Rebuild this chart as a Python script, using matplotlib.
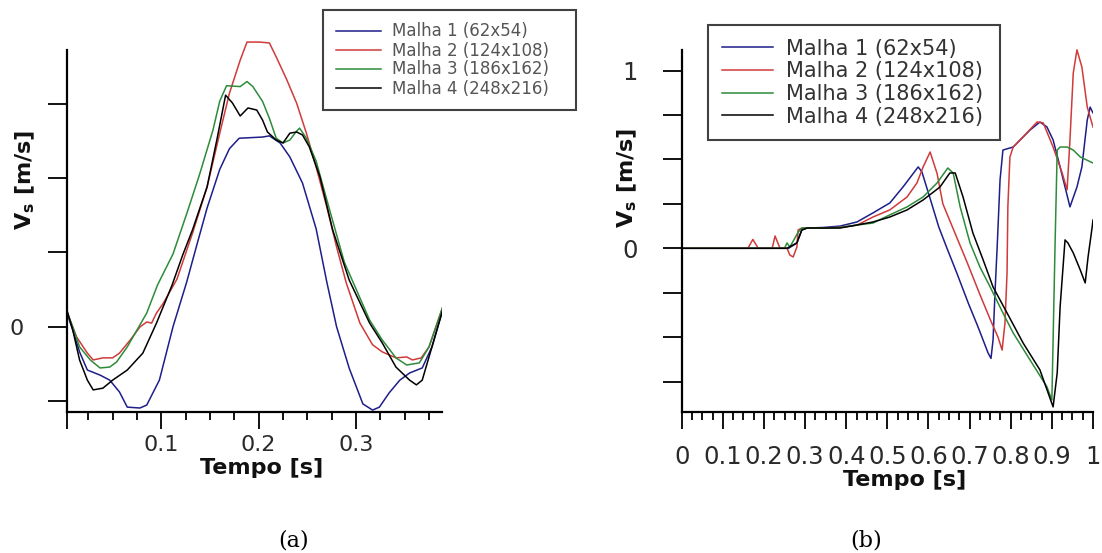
import matplotlib
matplotlib.use("Agg")
import matplotlib.pyplot as plt
from matplotlib.ticker import FixedLocator, MultipleLocator

plt.rcParams["font.family"] = ["DejaVu Sans"]

labels = ["Malha 1 (62x54)", "Malha 2 (124x108)", "Malha 3 (186x162)", "Malha 4 (248x216)"]
colors = ["#1e1e8a", "#d03a3a", "#2e8b3a", "#000000"]

# ---- panel (a): Vs [m/s] vs Tempo [s]
a_t_m1 = [0.003, 0.009, 0.016, 0.024, 0.037, 0.047, 0.057, 0.065, 0.078, 0.085, 0.098, 0.112, 0.126,
          0.136, 0.147, 0.160, 0.170, 0.180, 0.204, 0.211, 0.222, 0.232, 0.245, 0.259, 0.270, 0.280,
          0.293, 0.307, 0.317, 0.324, 0.334, 0.345, 0.355, 0.368, 0.378, 0.389]
a_v_m1 = [0.046, -0.011, -0.085, -0.146, -0.163, -0.180, -0.220, -0.271, -0.274, -0.264, -0.180, 0.0,
          0.15, 0.27, 0.40, 0.53, 0.60, 0.635, 0.639, 0.643, 0.619, 0.572, 0.484, 0.33, 0.15, 0.0,
          -0.14, -0.26, -0.281, -0.271, -0.223, -0.180, -0.156, -0.139, -0.068, 0.056]

a_t_m2 = [0.003, 0.013, 0.024, 0.030, 0.040, 0.050, 0.057, 0.068, 0.078, 0.085, 0.090, 0.095, 0.102,
          0.116, 0.132, 0.147, 0.160, 0.170, 0.181, 0.188, 0.201, 0.211, 0.218, 0.229, 0.239, 0.249,
          0.259, 0.270, 0.280, 0.290, 0.304, 0.317, 0.327, 0.341, 0.352, 0.358, 0.367, 0.375, 0.389]
a_v_m2 = [0.050, -0.035, -0.089, -0.112, -0.105, -0.105, -0.089, -0.045, -0.001, 0.016, 0.012, 0.046,
          0.079, 0.160, 0.315, 0.471, 0.652, 0.787, 0.898, 0.959, 0.959, 0.956, 0.909, 0.831, 0.753,
          0.652, 0.538, 0.403, 0.269, 0.147, 0.012, -0.061, -0.085, -0.105, -0.102, -0.112, -0.105,
          -0.068, 0.066]

a_t_m3 = [0.003, 0.009, 0.016, 0.027, 0.037, 0.047, 0.054, 0.065, 0.075, 0.085, 0.096, 0.112, 0.126,
          0.139, 0.153, 0.160, 0.167, 0.181, 0.188, 0.194, 0.204, 0.211, 0.218, 0.225, 0.232, 0.239,
          0.242, 0.249, 0.259, 0.273, 0.288, 0.296, 0.314, 0.327, 0.341, 0.352, 0.365, 0.375, 0.389]
a_v_m3 = [0.050, -0.001, -0.068, -0.112, -0.139, -0.136, -0.119, -0.068, -0.011, 0.046, 0.140, 0.245,
          0.380, 0.510, 0.662, 0.760, 0.812, 0.809, 0.826, 0.809, 0.759, 0.702, 0.635, 0.619, 0.629,
          0.659, 0.669, 0.635, 0.558, 0.392, 0.217, 0.157, 0.022, -0.045, -0.105, -0.129, -0.122,
          -0.068, 0.066]

a_t_m4 = [0.003, 0.009, 0.016, 0.024, 0.030, 0.040, 0.050, 0.065, 0.081, 0.095, 0.111, 0.122, 0.132,
          0.147, 0.157, 0.166, 0.173, 0.181, 0.189, 0.198, 0.204, 0.209, 0.218, 0.225, 0.232, 0.239,
          0.245, 0.252, 0.263, 0.276, 0.293, 0.314, 0.327, 0.341, 0.355, 0.362, 0.368, 0.378, 0.389]
a_v_m4 = [0.056, -0.011, -0.112, -0.180, -0.213, -0.207, -0.180, -0.146, -0.089, 0.012, 0.140, 0.242,
          0.326, 0.471, 0.629, 0.780, 0.754, 0.710, 0.737, 0.730, 0.696, 0.656, 0.629, 0.619, 0.652,
          0.656, 0.646, 0.606, 0.504, 0.326, 0.157, 0.012, -0.055, -0.136, -0.180, -0.196, -0.180,
          -0.068, 0.056]

# ---- panel (b)
b_t_m1 = [0.0, 0.26, 0.280, 0.292, 0.305, 0.344, 0.385, 0.426, 0.465, 0.506, 0.538, 0.575, 0.584,
          0.604, 0.625, 0.645, 0.669, 0.697, 0.720, 0.745, 0.752, 0.757, 0.762, 0.767, 0.774, 0.781,
          0.806, 0.823, 0.847, 0.871, 0.888, 0.903, 0.920, 0.932, 0.944, 0.961, 0.973, 0.986, 0.993, 1.0]
b_v_m1 = [0.0, 0.0, 0.03, 0.103, 0.114, 0.117, 0.125, 0.148, 0.199, 0.255, 0.345, 0.458, 0.43,
          0.28, 0.12, 0.0, -0.14, -0.31, -0.44, -0.59, -0.62, -0.516, -0.235, 0.007, 0.385, 0.553,
          0.57, 0.61, 0.666, 0.711, 0.683, 0.61, 0.458, 0.345, 0.233, 0.345, 0.458, 0.722, 0.795, 0.762]

b_t_m2 = [0.0, 0.161, 0.173, 0.186, 0.220, 0.227, 0.239, 0.256, 0.263, 0.271, 0.280, 0.283, 0.292,
          0.305, 0.344, 0.385, 0.426, 0.465, 0.506, 0.548, 0.572, 0.587, 0.604, 0.621, 0.635, 0.660,
          0.694, 0.725, 0.750, 0.769, 0.779, 0.786, 0.791, 0.793, 0.798, 0.806, 0.830, 0.864, 0.879,
          0.903, 0.925, 0.937, 0.944, 0.952, 0.961, 0.973, 0.986, 1.0]
b_v_m2 = [0.0, 0.0, 0.05, 0.0, 0.0, 0.069, 0.0, 0.0, -0.038, -0.049, 0.007, 0.103, 0.114,
          0.114, 0.114, 0.118, 0.13, 0.176, 0.216, 0.289, 0.368, 0.458, 0.542, 0.42, 0.25, 0.11,
          -0.08, -0.26, -0.40, -0.50, -0.573, -0.42, -0.139, 0.233, 0.514, 0.57, 0.627, 0.711, 0.706,
          0.57, 0.424, 0.329, 0.61, 0.987, 1.117, 1.02, 0.795, 0.683]

b_t_m3 = [0.0, 0.25, 0.256, 0.263, 0.283, 0.292, 0.305, 0.344, 0.385, 0.426, 0.465, 0.506, 0.548,
          0.587, 0.621, 0.647, 0.660, 0.677, 0.701, 0.725, 0.750, 0.781, 0.806, 0.847, 0.888, 0.900,
          0.903, 0.908, 0.913, 0.920, 0.937, 0.952, 0.969, 1.0]
b_v_m3 = [0.0, 0.0, 0.03, 0.007, 0.09, 0.114, 0.114, 0.114, 0.117, 0.131, 0.142, 0.188, 0.233,
          0.289, 0.368, 0.452, 0.424, 0.233, 0.03, -0.105, -0.218, -0.364, -0.477, -0.629, -0.78,
          -0.854, -0.516, 0.047, 0.553, 0.57, 0.57, 0.553, 0.514, 0.48]

b_t_m4 = [0.0, 0.256, 0.280, 0.292, 0.305, 0.344, 0.385, 0.426, 0.465, 0.506, 0.548, 0.587, 0.628,
          0.652, 0.665, 0.684, 0.708, 0.733, 0.757, 0.791, 0.830, 0.871, 0.903, 0.913, 0.920, 0.932,
          0.939, 0.952, 0.969, 0.981, 0.988, 0.998, 1.0]
b_v_m4 = [0.0, 0.0, 0.03, 0.103, 0.114, 0.114, 0.114, 0.131, 0.148, 0.176, 0.216, 0.272, 0.345,
          0.424, 0.424, 0.289, 0.086, -0.066, -0.218, -0.364, -0.533, -0.685, -0.893, -0.701, -0.331,
          0.047, 0.03, -0.026, -0.122, -0.195, -0.049, 0.12, 0.159]

b_xticks = [0.0, 0.1, 0.2, 0.3, 0.4, 0.5, 0.6, 0.7, 0.8, 0.9, 1.0]
b_xticklabels = ["0", "0.1", "0.2", "0.3", "0.4", "0.5", "0.6", "0.7", "0.8", "0.9", "1"]

W, H = 1102, 553
fig = plt.figure(figsize=(W / 100, H / 100), dpi=100)


def px_axes(x0, x1, ytop, ybot):
    return fig.add_axes([x0 / W, 1 - ybot / H, (x1 - x0) / W, (ybot - ytop) / H])


def style(ax, xpad, size):
    for s in ["top", "right"]:
        ax.spines[s].set_visible(False)
    for s in ["left", "bottom"]:
        ax.spines[s].set_linewidth(1.6)
    ax.tick_params(which="both", direction="out", width=1.4, colors="#111111",
                   labelcolor="#2a2a2a", labelsize=size)
    ax.tick_params(axis="x", which="major", length=12, pad=xpad)
    ax.tick_params(axis="x", which="minor", length=5.5)
    ax.tick_params(axis="y", which="major", length=13.5, pad=18)


# ---------------- (a)
ax1 = px_axes(67.3, 441.7, 38, 411.7)
a_series = [(a_t_m1, a_v_m1), (a_t_m2, a_v_m2), (a_t_m3, a_v_m3), (a_t_m4, a_v_m4)]
for (t, v), c, lab in zip(a_series, colors, labels):
    ax1.plot(t, v, color=c, lw=1.1, label=lab)
ax1.set_xlim(0.0034, 0.388)
ax1.set_ylim(-0.2864, 0.9727)
ax1.spines["left"].set_bounds(-0.2864, 0.932)
style(ax1, 5, 16)
ax1.xaxis.set_major_locator(FixedLocator([0.0034, 0.1, 0.2, 0.3]))
ax1.set_xticklabels(["", "0.1", "0.2", "0.3"])
ax1.xaxis.set_minor_locator(FixedLocator([0.025, 0.05, 0.075, 0.125, 0.15, 0.175, 0.225, 0.25,
                                          0.275, 0.325, 0.35, 0.375]))
ax1.yaxis.set_major_locator(MultipleLocator(0.25))
ax1.yaxis.set_major_formatter(plt.FuncFormatter(lambda v, p: "0" if abs(v) < 1e-9 else ""))
ax1.text(-0.113, 0.62, "V$_\\mathbf{s}$ [m/s]", transform=ax1.transAxes, rotation=90,
         ha="center", va="center", fontsize=16, fontweight="bold", color="#111111")
ax1.text(0.52, -0.151, "Tempo [s]", transform=ax1.transAxes, ha="center", va="center",
         fontsize=16, fontweight="bold", color="#111111")
leg1 = ax1.legend(loc="upper left", bbox_to_anchor=(323 / W, 0.5, 253 / W, 1 - 10 / H - 0.5),
                  bbox_transform=fig.transFigure, mode="expand", borderaxespad=0,
                  fontsize=12, handlelength=2.75, handletextpad=0.65, labelspacing=0.06,
                  borderpad=0.75, frameon=True, fancybox=False)
leg1.get_frame().set_edgecolor("#111111")
leg1.get_frame().set_linewidth(1.5)
for txt in leg1.get_texts():
    txt.set_color("#555555")

# ---------------- (b)
ax2 = px_axes(681.7, 1093, 44, 411.7)
b_series = [(b_t_m1, b_v_m1), (b_t_m2, b_v_m2), (b_t_m3, b_v_m3), (b_t_m4, b_v_m4)]
for (t, v), c, lab in zip(b_series, colors, labels):
    ax2.plot(t, v, color=c, lw=1.1, label=lab)
ax2.set_xlim(0, 1)
ax2.set_ylim(-0.920, 1.150)
ax2.spines["left"].set_bounds(-0.920, 1.117)
style(ax2, 12, 17.5)
ax2.xaxis.set_major_locator(FixedLocator(b_xticks))
ax2.set_xticklabels(b_xticklabels)
ax2.xaxis.set_minor_locator(MultipleLocator(0.025))
ax2.yaxis.set_major_locator(FixedLocator([-0.75, -0.5, -0.25, 0.0, 0.25, 0.5, 0.75, 1.0]))
ax2.set_yticklabels(["", "", "", "0", "", "", "", "1"])
ax2.text(-0.1315, 0.636, "V$_\\mathbf{s}$ [m/s]", transform=ax2.transAxes, rotation=90,
         ha="center", va="center", fontsize=16, fontweight="bold", color="#111111")
ax2.text(0.543, -0.185, "Tempo [s]", transform=ax2.transAxes, ha="center", va="center",
         fontsize=16, fontweight="bold", color="#111111")
leg2 = ax2.legend(loc="upper left", bbox_to_anchor=(708 / W, 0.5, 292 / W, 1 - 25 / H - 0.5),
                  bbox_transform=fig.transFigure, mode="expand", borderaxespad=0,
                  fontsize=15, handlelength=2.45, handletextpad=0.62, labelspacing=0.13,
                  borderpad=0.65, frameon=True, fancybox=False)
leg2.get_frame().set_edgecolor("#111111")
leg2.get_frame().set_linewidth(1.5)
for txt in leg2.get_texts():
    txt.set_color("#333333")

# captions
fig.text(294 / W, 1 - 540 / H, "(a)", ha="center", va="center", fontsize=16, family="DejaVu Serif")
fig.text(866 / W, 1 - 540 / H, "(b)", ha="center", va="center", fontsize=16, family="DejaVu Serif")

fig.savefig("out.png", dpi=100)
